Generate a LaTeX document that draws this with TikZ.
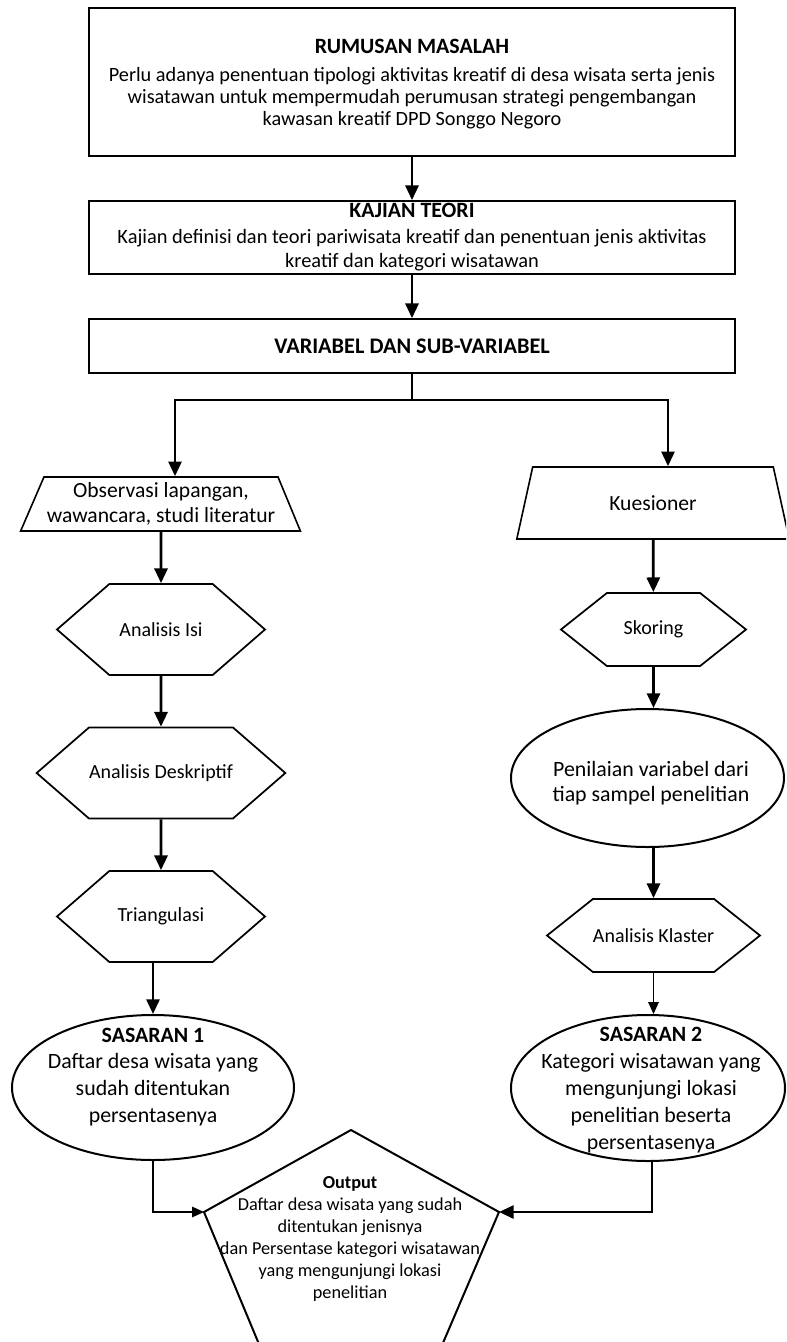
\documentclass[tikz,border=0pt]{standalone}
\usepackage{fontspec}
\setmainfont{Carlito}
\usetikzlibrary{shapes.geometric,shapes.symbols,arrows.meta,positioning}

\begin{document}
\begin{tikzpicture}[x=0.75pt,y=-0.75pt,
  box/.style={draw,line width=1.3pt,minimum width=484.5pt,align=center,inner sep=0pt},
  trap/.style={draw,trapezium,trapezium stretches=true,line width=1.2pt,align=center,inner sep=0pt,font=\fontsize{16.2}{18.75}\selectfont},
  hexa/.style={draw,signal,signal to=east and west,line width=1.3pt,inner sep=0pt,font=\fontsize{15}{18}\selectfont},
  ell/.style={draw,ellipse,line width=1.5pt,inner sep=0pt},
  elltxt/.style={align=center,inner sep=0pt,font=\fontsize{16.4}{20.2}\selectfont},
  arr/.style={line width=2.1pt,-{Triangle[length=11pt,width=9.75pt]}},
  thinarr/.style={line width=0.9pt,-{Triangle[length=9pt,width=8pt]}}]
\useasboundingbox (0,0) rectangle (786,1342);
\clip (0,0) rectangle (786,1342);
\fill[white] (0,0) rectangle (786,1342);

\node[box,minimum height=111pt] (rum) at (412,82) {};
\node[align=center,inner sep=0pt,font=\fontsize{15.2}{16.6}\selectfont] (rumtxt) at (412,84)
  {{\fontsize{16.4}{18}\selectfont\bfseries RUMUSAN MASALAH}\\[4pt]Perlu adanya penentuan tipologi aktivitas kreatif di desa wisata serta jenis\\wisatawan untuk mempermudah perumusan strategi pengembangan\\kawasan kreatif DPD Songgo Negoro};
\node[box,minimum height=54.75pt,font=\fontsize{15.3}{18.2}\selectfont] (kaj) at (412,237.5)
  {{\fontsize{16.4}{18}\selectfont\bfseries KAJIAN TEORI}\\[1pt]Kajian definisi dan teori pariwisata kreatif dan penentuan jenis aktivitas\\kreatif dan kategori wisatawan};
\node[box,minimum height=40.5pt,font=\fontsize{16.7}{18}\selectfont\bfseries] (var) at (412,346) {VARIABEL DAN SUB-VARIABEL};

% left branch
\node[trap,trapezium left angle=62,trapezium right angle=63,minimum width=210pt,minimum height=40.5pt] (obs) at (161,504)
  {Observasi lapangan,\\wawancara, studi literatur};
\node[hexa,signal pointer angle=82,minimum width=156pt,minimum height=68.25pt] (isi) at (161,629.5) {Analisis Isi};
\node[hexa,signal pointer angle=82,minimum width=156pt,minimum height=68.25pt] (des) at (161,773) {Analisis Deskriptif};
\node[hexa,signal pointer angle=82,minimum width=156pt,minimum height=68.25pt] (tri) at (161,916.5) {Triangulasi};
\node[ell,minimum width=211.5pt,minimum height=108.75pt] (sas1) at (153,1087.5) {};
\node[elltxt] (sas1txt) at (153,1077)
  {\textbf{SASARAN 1}\\Daftar desa wisata yang\\sudah ditentukan\\persentasenya};

% right branch
\node[trap,trapezium left angle=69,trapezium right angle=69,minimum width=205.5pt,minimum height=54pt] (kue) at (653,503) {Kuesioner};
\node[hexa,signal pointer angle=77,minimum width=138.75pt,minimum height=54.75pt] (sko) at (653.5,629.5) {Skoring};
\node[ell,minimum width=204.75pt,minimum height=103.5pt] (pen) at (647.5,778) {};
\node[elltxt,font=\fontsize{16.4}{18.75}\selectfont] (pentxt) at (651,783)
  {Penilaian variabel dari\\tiap sampel penelitian};
\node[hexa,signal pointer angle=77,minimum width=138.75pt,minimum height=54.75pt] (kla) at (653.5,935.5) {Analisis Klaster};
\node[ell,minimum width=205.5pt,minimum height=109.5pt] (sas2) at (648,1088) {};
\node[elltxt] (sas2txt) at (651,1090)
  {\textbf{SASARAN 2}\\Kategori wisatawan yang\\mengunjungi lokasi\\penelitian beserta\\persentasenya};

% output
\coordinate (outT) at (351,1130);
\coordinate (outL) at (204,1212);
\coordinate (outR) at (499,1212);
\coordinate (outBL) at (276,1385);
\coordinate (outBR) at (425,1385);
\draw[line width=1.5pt] (outL) -- (outT) -- (outR) -- (outBR) -- (outBL) -- cycle;
\node[align=center,inner sep=0pt,font=\fontsize{13.7}{16.6}\selectfont] (outtxt) at (350,1239)
  {\textbf{Output}\\Daftar desa wisata yang sudah\\ditentukan jenisnya\\dan Persentase kategori wisatawan\\yang mengunjungi lokasi\\penelitian};

% connectors
\coordinate (split) at (412,400);
\coordinate (lx) at (175,400);
\coordinate (rx) at (668,400);
\draw[arr] (rum) -- (kaj);
\draw[arr] (kaj) -- (var);
\draw[arr] (var.south) -- (split) -| (obs.north -| lx);
\draw[arr] (var.south) -- (split) -| (kue.north -| rx);
\draw[arr] (obs) -- (isi);
\draw[arr] (isi) -- (des);
\draw[arr] (des) -- (tri);
\draw[arr] (tri.south -| sas1.north) -- (sas1.north);
\draw[arr] (kue) -- (sko);
\draw[arr] (sko.south) -- (sko.south |- pen.north);
\draw[arr] (pen.south -| kla.north) -- (kla.north);
\draw[thinarr] (kla.south) -- (kla.south |- sas2.north);
\draw[thinarr] (sas1.south) |- (outL);
\draw[arr] (sas2.south) ++(4,0) |- (outR);
\end{tikzpicture}
\end{document}
